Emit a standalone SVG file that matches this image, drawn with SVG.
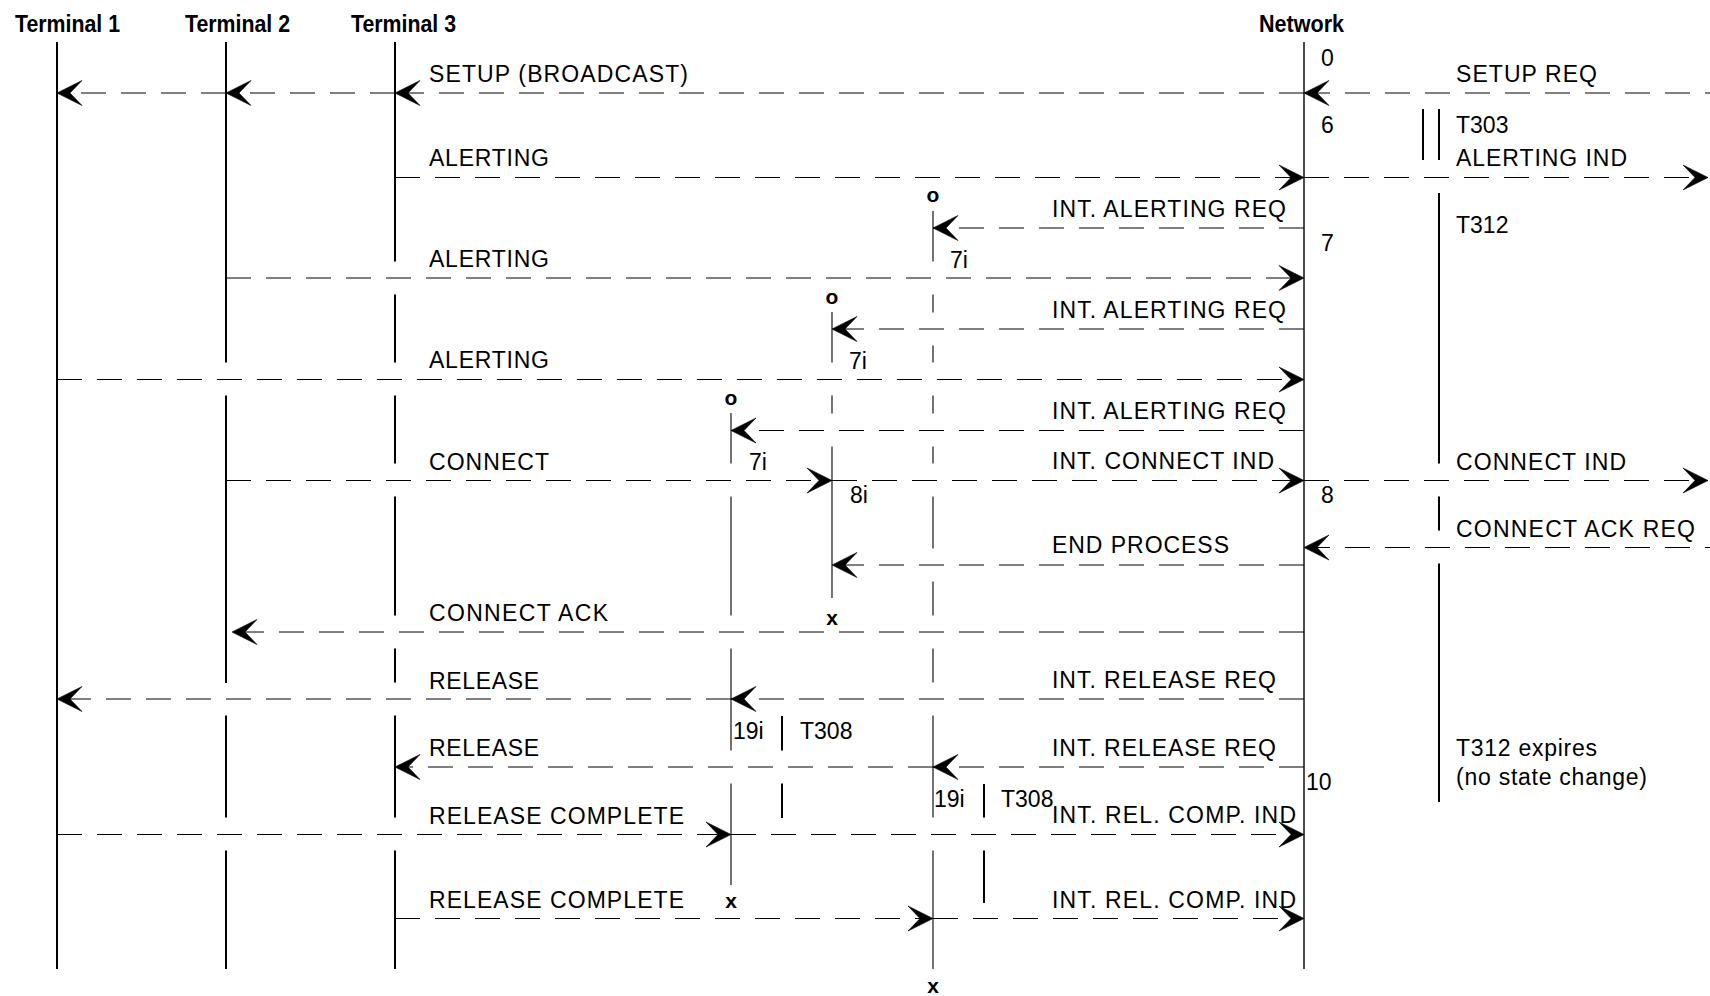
<svg xmlns="http://www.w3.org/2000/svg" width="1710" height="996" viewBox="0 0 1710 996">
<defs>
<style>
.ll{stroke:#000;stroke-width:2;fill:none}
.nw{stroke:#000;stroke-width:1.4;fill:none}
.pl{stroke:#000;stroke-width:1.1;fill:none}
.tm{stroke:#000;stroke-width:2;fill:none}
.m{stroke:#000;stroke-width:1;stroke-dasharray:25 15;fill:none;marker-end:url(#ah)}
.hd{font-family:"Liberation Sans",Arial,sans-serif;font-weight:bold;font-size:24px;fill:#000}
.lb{font-family:"Liberation Sans",Arial,sans-serif;font-size:23px;fill:#000}
.sy{font-family:"Liberation Sans",Arial,sans-serif;font-weight:bold;font-size:21px;fill:#000;text-anchor:middle}
</style>
<marker id="ah" viewBox="-28 -14 30 28" refX="0" refY="0" markerWidth="30" markerHeight="28" markerUnits="userSpaceOnUse" orient="auto" overflow="visible">
<path d="M0,0 L-25,-12.5 L-13,0 L-25,12.5 Z" fill="#000" stroke="#000" stroke-width="0.6" stroke-linejoin="miter"/>
</marker>
</defs>
<rect width="1710" height="996" fill="#fff"/>

<g id="terminal1">
<text class="hd" x="15" y="32" textLength="105" lengthAdjust="spacingAndGlyphs">Terminal 1</text>
<line class="ll" x1="57" y1="42" x2="57" y2="969"/>
</g>
<g id="terminal2">
<text class="hd" x="185" y="32" textLength="105" lengthAdjust="spacingAndGlyphs">Terminal 2</text>
<path class="ll" d="M226,42V362.5M226,395.5V683M226,715.5V817.5M226,850.5V969"/>
</g>
<g id="terminal3">
<text class="hd" x="351" y="32" textLength="105" lengthAdjust="spacingAndGlyphs">Terminal 3</text>
<path class="ll" d="M395,42V261.5M395,294.5V362.5M395,395.5V463.5M395,496.5V615.5M395,648.5V682.5M395,715.5V817.5M395,850.5V969"/>
</g>
<g id="network">
<text class="hd" x="1259" y="32" textLength="85" lengthAdjust="spacingAndGlyphs">Network</text>
<line class="nw" x1="1304" y1="42" x2="1304" y2="969"/>
<text class="lb" x="1321" y="66">0</text>
<text class="lb" x="1321" y="133">6</text>
<text class="lb" x="1321" y="251">7</text>
<text class="lb" x="1321" y="503">8</text>
<text class="lb" x="1306" y="790">10</text>
</g>
<g id="timers-network">
<path class="tm" d="M1423,109V160M1439,109V160"/>
<text class="lb" x="1456" y="133">T303</text>
<path class="tm" d="M1439,193V463.5M1439,496.5V530.5M1439,563.5V802"/>
<text class="lb" x="1456" y="233">T312</text>
<text class="lb" x="1456" y="756" textLength="141" lengthAdjust="spacing">T312 expires</text>
<text class="lb" x="1456" y="785" textLength="191" lengthAdjust="spacing">(no state change)</text>
</g>
<g id="process-a">
<text class="sy" x="933" y="202">o</text>
<path class="pl" d="M933,211V261.5M933,294.5V312.5M933,345.5V362.5M933,395.5V413.5M933,446.5V463.5M933,496.5V548.5M933,581.5V615.5M933,648.5V682.5M933,715.5V817.5M933,850.5V969"/>
<text class="lb" x="950" y="268">7i</text>
<text class="lb" x="934" y="807">19i</text>
<path class="tm" d="M984,784V817.5M984,850.5V903"/>
<text class="lb" x="1001" y="807">T308</text>
<text class="sy" x="933" y="993">x</text>
</g>
<g id="process-b">
<text class="sy" x="832" y="304">o</text>
<path class="pl" d="M832,312V362.5M832,395.5V413.5M832,446.5V598"/>
<text class="lb" x="849" y="369">7i</text>
<text class="lb" x="850" y="503">8i</text>
<text class="sy" x="832" y="625">x</text>
</g>
<g id="process-c">
<text class="sy" x="731" y="405">o</text>
<path class="pl" d="M731,413V463.5M731,496.5V615.5M731,648.5V750.5M731,783.5V885"/>
<text class="lb" x="749" y="470">7i</text>
<text class="lb" x="733" y="739">19i</text>
<path class="tm" d="M782,716V750.5M782,783.5V818"/>
<text class="lb" x="800" y="739">T308</text>
<text class="sy" x="731" y="908">x</text>
</g>

<g id="connectors">
<path class="m" d="M1730,93H1304"/>
<path class="m" d="M1304,93H395"/>
<path class="m" d="M395,93H226"/>
<path class="m" d="M226,93H57"/>
<path class="m" d="M395,177.5H1304"/>
<path class="m" d="M1304,177.5H1708"/>
<path class="m" d="M1304,228H933"/>
<path class="m" d="M226,278H1304"/>
<path class="m" d="M1304,329H832"/>
<path class="m" d="M57,379.5H1304"/>
<path class="m" d="M1304,430.5H731"/>
<path class="m" d="M226,480.5H832"/>
<path class="m" d="M832,480.5H1304"/>
<path class="m" d="M1304,480.5H1708"/>
<path class="m" d="M1730,547.5H1304"/>
<path class="m" d="M1304,565H832"/>
<path class="m" d="M1304,632H232"/>
<path class="m" d="M1304,699H731"/>
<path class="m" d="M731,699H57"/>
<path class="m" d="M1304,767H933"/>
<path class="m" d="M933,767H395"/>
<path class="m" d="M57,834.5H731"/>
<path class="m" d="M731,834.5H1304"/>
<path class="m" d="M395,918.5H933"/>
<path class="m" d="M933,918.5H1304"/>
</g>

<g id="labels">
<text class="lb" x="429" y="82" textLength="259" lengthAdjust="spacing">SETUP (BROADCAST)</text>
<text class="lb" x="1456" y="82" textLength="141" lengthAdjust="spacing">SETUP REQ</text>
<text class="lb" x="429" y="166" textLength="120" lengthAdjust="spacing">ALERTING</text>
<text class="lb" x="1456" y="166" textLength="171" lengthAdjust="spacing">ALERTING IND</text>
<text class="lb" x="1052" y="217" textLength="234" lengthAdjust="spacing">INT. ALERTING REQ</text>
<text class="lb" x="429" y="267" textLength="120" lengthAdjust="spacing">ALERTING</text>
<text class="lb" x="1052" y="318" textLength="234" lengthAdjust="spacing">INT. ALERTING REQ</text>
<text class="lb" x="429" y="368" textLength="120" lengthAdjust="spacing">ALERTING</text>
<text class="lb" x="1052" y="419" textLength="234" lengthAdjust="spacing">INT. ALERTING REQ</text>
<text class="lb" x="429" y="470" textLength="120" lengthAdjust="spacing">CONNECT</text>
<text class="lb" x="1052" y="469" textLength="222" lengthAdjust="spacing">INT. CONNECT IND</text>
<text class="lb" x="1456" y="470" textLength="170" lengthAdjust="spacing">CONNECT IND</text>
<text class="lb" x="1456" y="537" textLength="239" lengthAdjust="spacing">CONNECT ACK REQ</text>
<text class="lb" x="1052" y="553" textLength="177" lengthAdjust="spacing">END PROCESS</text>
<text class="lb" x="429" y="621" textLength="179" lengthAdjust="spacing">CONNECT ACK</text>
<text class="lb" x="429" y="689" textLength="110" lengthAdjust="spacing">RELEASE</text>
<text class="lb" x="1052" y="688" textLength="224" lengthAdjust="spacing">INT. RELEASE REQ</text>
<text class="lb" x="429" y="756" textLength="110" lengthAdjust="spacing">RELEASE</text>
<text class="lb" x="1052" y="756" textLength="224" lengthAdjust="spacing">INT. RELEASE REQ</text>
<text class="lb" x="429" y="824" textLength="255" lengthAdjust="spacing">RELEASE COMPLETE</text>
<text class="lb" x="1052" y="823" textLength="244" lengthAdjust="spacing">INT. REL. COMP. IND</text>
<text class="lb" x="429" y="908" textLength="255" lengthAdjust="spacing">RELEASE COMPLETE</text>
<text class="lb" x="1052" y="908" textLength="244" lengthAdjust="spacing">INT. REL. COMP. IND</text>
</g>
</svg>
